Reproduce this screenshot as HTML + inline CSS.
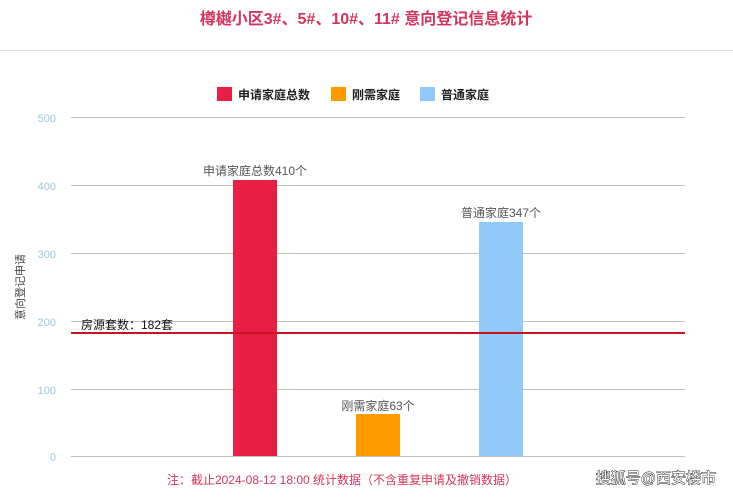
<!DOCTYPE html>
<html><head><meta charset="utf-8"><style>
body{margin:0;background:#fff;width:733px;height:495px;overflow:hidden;font-family:"Liberation Sans","Noto Sans CJK SC",sans-serif}
</style></head><body>
<svg width="733" height="495" xmlns="http://www.w3.org/2000/svg" font-family="Liberation Sans, Noto Sans CJK SC, sans-serif">
<text x="366" y="24" text-anchor="middle" font-size="16" font-weight="bold" fill="#d2365e">樽樾小区3#、5#、10#、11# 意向登记信息统计</text>
<line x1="0" y1="50.5" x2="733" y2="50.5" stroke="#ddd" stroke-width="1"/>
<rect x="217" y="87" width="15" height="14" fill="#e81e44"/>
<text x="238" y="99" font-size="12" font-weight="bold" fill="#222">申请家庭总数</text>
<rect x="331" y="87" width="15" height="14" fill="#fd9a00"/>
<text x="352" y="99" font-size="12" font-weight="bold" fill="#222">刚需家庭</text>
<rect x="420" y="87" width="15" height="14" fill="#90c8fa"/>
<text x="441" y="99" font-size="12" font-weight="bold" fill="#222">普通家庭</text>
<g stroke="#c0c0c0" stroke-width="1">
<line x1="71" y1="117.5" x2="685" y2="117.5"/>
<line x1="71" y1="185.5" x2="685" y2="185.5"/>
<line x1="71" y1="253.5" x2="685" y2="253.5"/>
<line x1="71" y1="321.5" x2="685" y2="321.5"/>
<line x1="71" y1="389.5" x2="685" y2="389.5"/>
<line x1="71" y1="456.5" x2="685" y2="456.5"/>
</g>
<g font-size="11" fill="#9cc6dc" text-anchor="end">
<text x="56" y="122">500</text><text x="56" y="190">400</text><text x="56" y="258">300</text>
<text x="56" y="326">200</text><text x="56" y="394">100</text><text x="56" y="461">0</text>
</g>
<text transform="translate(24,287) rotate(-90)" text-anchor="middle" font-size="11" fill="#444">意向登记申请</text>
<rect x="233" y="180" width="44" height="276" fill="#e81e44"/>
<rect x="356" y="414" width="44" height="42" fill="#fd9a00"/>
<rect x="479" y="222" width="44" height="234" fill="#90c8fa"/>
<g font-size="12" fill="#555" text-anchor="middle">
<text x="255" y="175">申请家庭总数410个</text>
<text x="378" y="410">刚需家庭63个</text>
<text x="501" y="217">普通家庭347个</text>
</g>
<line x1="71" y1="333" x2="685" y2="333" stroke="#c8141e" stroke-width="2"/>
<text x="81" y="329" font-size="12" fill="#111">房源套数：182套</text>
<text x="342" y="484" text-anchor="middle" font-size="12" fill="#d2365e">注：截止2024-08-12 18:00 统计数据（不含重复申请及撤销数据）</text>
<text x="716" y="483" text-anchor="end" font-size="15" fill="#fff" stroke="#222" stroke-width="0.9" paint-order="stroke">搜狐号@西安楼市</text>
</svg>
</body></html>
